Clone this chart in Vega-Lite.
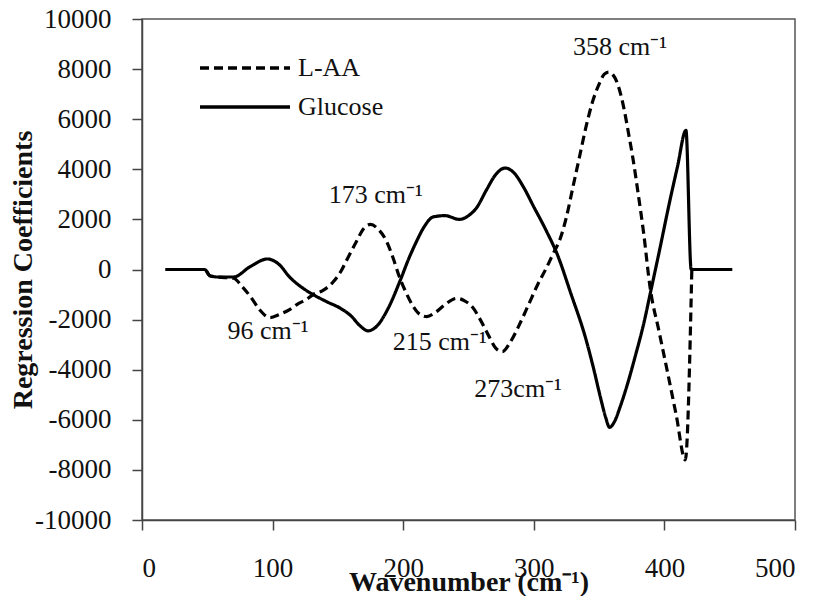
{
  "$schema": "https://vega.github.io/schema/vega-lite/v6.json",
  "width": 653,
  "height": 501,
  "autosize": {"type": "none"},
  "padding": {"left": 142, "top": 19, "right": 23, "bottom": 76},
  "background": "white",
  "config": {
    "view": {"stroke": "#555555", "strokeWidth": 1.5},
    "font": "Liberation Serif",
    "axis": {"grid": false, "domainColor": "#444444", "domainWidth": 1.5, "tickColor": "#444444", "tickWidth": 1.5, "tickSize": 10, "labelFont": "Liberation Serif", "labelFontSize": 27, "labelColor": "#111111", "titleFont": "Liberation Serif", "titleFontWeight": "bold", "titleFontSize": 28, "titleColor": "#111111"}
  },
  "datasets": {
    "curves": [
      {"wn": 18, "coef": 0, "series": "Glucose"},
      {"wn": 48, "coef": 0, "series": "Glucose"},
      {"wn": 52, "coef": -250, "series": "Glucose"},
      {"wn": 58, "coef": -300, "series": "Glucose"},
      {"wn": 70, "coef": -300, "series": "Glucose"},
      {"wn": 83, "coef": 120, "series": "Glucose"},
      {"wn": 96, "coef": 420, "series": "Glucose"},
      {"wn": 105, "coef": 200, "series": "Glucose"},
      {"wn": 113, "coef": -300, "series": "Glucose"},
      {"wn": 122, "coef": -700, "series": "Glucose"},
      {"wn": 131, "coef": -1000, "series": "Glucose"},
      {"wn": 142, "coef": -1300, "series": "Glucose"},
      {"wn": 152, "coef": -1550, "series": "Glucose"},
      {"wn": 160, "coef": -1850, "series": "Glucose"},
      {"wn": 167, "coef": -2250, "series": "Glucose"},
      {"wn": 173, "coef": -2450, "series": "Glucose"},
      {"wn": 180, "coef": -2250, "series": "Glucose"},
      {"wn": 188, "coef": -1600, "series": "Glucose"},
      {"wn": 198, "coef": -400, "series": "Glucose"},
      {"wn": 204, "coef": 400, "series": "Glucose"},
      {"wn": 210, "coef": 1100, "series": "Glucose"},
      {"wn": 216, "coef": 1700, "series": "Glucose"},
      {"wn": 223, "coef": 2100, "series": "Glucose"},
      {"wn": 232, "coef": 2150, "series": "Glucose"},
      {"wn": 243, "coef": 2000, "series": "Glucose"},
      {"wn": 250, "coef": 2150, "series": "Glucose"},
      {"wn": 256, "coef": 2450, "series": "Glucose"},
      {"wn": 264, "coef": 3200, "series": "Glucose"},
      {"wn": 271, "coef": 3800, "series": "Glucose"},
      {"wn": 278, "coef": 4050, "series": "Glucose"},
      {"wn": 285, "coef": 3850, "series": "Glucose"},
      {"wn": 292, "coef": 3300, "series": "Glucose"},
      {"wn": 300, "coef": 2500, "series": "Glucose"},
      {"wn": 310, "coef": 1500, "series": "Glucose"},
      {"wn": 318, "coef": 600, "series": "Glucose"},
      {"wn": 328, "coef": -900, "series": "Glucose"},
      {"wn": 340, "coef": -2800, "series": "Glucose"},
      {"wn": 346, "coef": -4000, "series": "Glucose"},
      {"wn": 351, "coef": -5100, "series": "Glucose"},
      {"wn": 355, "coef": -5900, "series": "Glucose"},
      {"wn": 358, "coef": -6300, "series": "Glucose"},
      {"wn": 362, "coef": -6050, "series": "Glucose"},
      {"wn": 366, "coef": -5500, "series": "Glucose"},
      {"wn": 371, "coef": -4700, "series": "Glucose"},
      {"wn": 378, "coef": -3400, "series": "Glucose"},
      {"wn": 384, "coef": -2200, "series": "Glucose"},
      {"wn": 389, "coef": -1000, "series": "Glucose"},
      {"wn": 396, "coef": 700, "series": "Glucose"},
      {"wn": 404, "coef": 2700, "series": "Glucose"},
      {"wn": 410, "coef": 4100, "series": "Glucose"},
      {"wn": 416.5, "coef": 5550, "series": "Glucose"},
      {"wn": 420.5, "coef": 0, "series": "Glucose"},
      {"wn": 452, "coef": 0, "series": "Glucose"},
      {"wn": 18, "coef": 0, "series": "L-AA"},
      {"wn": 48, "coef": 0, "series": "L-AA"},
      {"wn": 52, "coef": -250, "series": "L-AA"},
      {"wn": 58, "coef": -300, "series": "L-AA"},
      {"wn": 70, "coef": -350, "series": "L-AA"},
      {"wn": 77, "coef": -700, "series": "L-AA"},
      {"wn": 83, "coef": -1080, "series": "L-AA"},
      {"wn": 90, "coef": -1600, "series": "L-AA"},
      {"wn": 98, "coef": -1920, "series": "L-AA"},
      {"wn": 105, "coef": -1800, "series": "L-AA"},
      {"wn": 113, "coef": -1600, "series": "L-AA"},
      {"wn": 120, "coef": -1350, "series": "L-AA"},
      {"wn": 126, "coef": -1200, "series": "L-AA"},
      {"wn": 131, "coef": -1000, "series": "L-AA"},
      {"wn": 138, "coef": -850, "series": "L-AA"},
      {"wn": 146, "coef": -520, "series": "L-AA"},
      {"wn": 152, "coef": -100, "series": "L-AA"},
      {"wn": 157, "coef": 400, "series": "L-AA"},
      {"wn": 164, "coef": 1100, "series": "L-AA"},
      {"wn": 170, "coef": 1650, "series": "L-AA"},
      {"wn": 175, "coef": 1800, "series": "L-AA"},
      {"wn": 181, "coef": 1600, "series": "L-AA"},
      {"wn": 187, "coef": 1150, "series": "L-AA"},
      {"wn": 192, "coef": 500, "series": "L-AA"},
      {"wn": 197, "coef": -280, "series": "L-AA"},
      {"wn": 202, "coef": -900, "series": "L-AA"},
      {"wn": 208, "coef": -1500, "series": "L-AA"},
      {"wn": 213, "coef": -1800, "series": "L-AA"},
      {"wn": 218, "coef": -1880, "series": "L-AA"},
      {"wn": 225, "coef": -1700, "series": "L-AA"},
      {"wn": 232, "coef": -1400, "series": "L-AA"},
      {"wn": 241, "coef": -1150, "series": "L-AA"},
      {"wn": 247, "coef": -1250, "series": "L-AA"},
      {"wn": 253, "coef": -1500, "series": "L-AA"},
      {"wn": 259, "coef": -2000, "series": "L-AA"},
      {"wn": 266, "coef": -2700, "series": "L-AA"},
      {"wn": 271, "coef": -3150, "series": "L-AA"},
      {"wn": 276, "coef": -3280, "series": "L-AA"},
      {"wn": 282, "coef": -2900, "series": "L-AA"},
      {"wn": 289, "coef": -2200, "series": "L-AA"},
      {"wn": 296, "coef": -1400, "series": "L-AA"},
      {"wn": 303, "coef": -600, "series": "L-AA"},
      {"wn": 310, "coef": 100, "series": "L-AA"},
      {"wn": 315, "coef": 650, "series": "L-AA"},
      {"wn": 320, "coef": 1200, "series": "L-AA"},
      {"wn": 325, "coef": 2100, "series": "L-AA"},
      {"wn": 330, "coef": 3300, "series": "L-AA"},
      {"wn": 335, "coef": 4500, "series": "L-AA"},
      {"wn": 340, "coef": 5700, "series": "L-AA"},
      {"wn": 345, "coef": 6700, "series": "L-AA"},
      {"wn": 350, "coef": 7400, "series": "L-AA"},
      {"wn": 354, "coef": 7800, "series": "L-AA"},
      {"wn": 357.5, "coef": 7880, "series": "L-AA"},
      {"wn": 360.5, "coef": 7780, "series": "L-AA"},
      {"wn": 363.5, "coef": 7500, "series": "L-AA"},
      {"wn": 366.5, "coef": 7000, "series": "L-AA"},
      {"wn": 369.5, "coef": 6300, "series": "L-AA"},
      {"wn": 372.5, "coef": 5450, "series": "L-AA"},
      {"wn": 376, "coef": 4400, "series": "L-AA"},
      {"wn": 380, "coef": 3000, "series": "L-AA"},
      {"wn": 384, "coef": 1500, "series": "L-AA"},
      {"wn": 389, "coef": -700, "series": "L-AA"},
      {"wn": 396, "coef": -2500, "series": "L-AA"},
      {"wn": 402, "coef": -4000, "series": "L-AA"},
      {"wn": 409, "coef": -5800, "series": "L-AA"},
      {"wn": 416, "coef": -7600, "series": "L-AA"},
      {"wn": 421, "coef": 0, "series": "L-AA"}
    ],
    "notes": [
      {"wn": 366, "coef": 8900, "label": "358 cm⁻¹"},
      {"wn": 179, "coef": 2990, "label": "173 cm⁻¹"},
      {"wn": 96.5, "coef": -2475, "label": "96 cm⁻¹"},
      {"wn": 228, "coef": -2875, "label": "215 cm⁻¹"},
      {"wn": 288, "coef": -4790, "label": "273cm⁻¹"}
    ]
  },
  "layer": [
    {
      "data": {"name": "curves"},
      "mark": {"type": "line", "color": "#000000", "strokeWidth": 3.2, "interpolate": "monotone"},
      "encoding": {
        "x": {"field": "wn", "type": "quantitative", "scale": {"domain": [0, 500], "nice": false}, "axis": {"values": [0, 100, 200, 300, 400, 500], "title": "Wavenumber (cm⁻¹)", "labelPadding": 25, "titleY": 70, "titleBaseline": "alphabetic", "titleAnchor": "middle"}},
        "y": {"field": "coef", "type": "quantitative", "scale": {"domain": [-10000, 10000], "nice": false}, "axis": {"values": [-10000, -8000, -6000, -4000, -2000, 0, 2000, 4000, 6000, 8000, 10000], "labelExpr": "datum.value + ''", "labelPadding": 21, "title": "Regression Coefficients", "titleX": -119, "titleBaseline": "middle"}},
        "strokeDash": {"field": "series", "type": "nominal", "scale": {"domain": ["L-AA", "Glucose"], "range": [[9, 5], [1, 0]]}, "legend": {"title": null, "orient": "none", "legendX": 56, "legendY": 34, "symbolType": "stroke", "symbolSize": 8100, "symbolStrokeWidth": 3.5, "symbolStrokeColor": "#000000", "labelFont": "Liberation Serif", "labelFontSize": 26, "labelColor": "#111111", "labelOffset": 6, "clipHeight": 30, "rowPadding": 9, "padding": 0}}
      }
    },
    {
      "data": {"name": "notes"},
      "mark": {"type": "text", "font": "Liberation Serif", "fontSize": 26, "color": "#111111", "align": "center", "baseline": "middle"},
      "encoding": {
        "x": {"field": "wn", "type": "quantitative"},
        "y": {"field": "coef", "type": "quantitative"},
        "text": {"field": "label"}
      }
    }
  ]
}
